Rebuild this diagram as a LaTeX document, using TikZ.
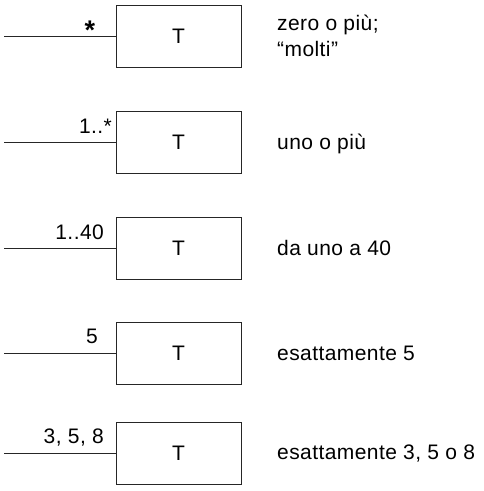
\documentclass[tikz,border=0pt]{standalone}
\usepackage{fontspec}
\setmainfont{Liberation Sans}[LetterSpace=2]
\begin{document}
\begin{tikzpicture}[x=1pt,y=-1pt,
  font=\fontsize{21}{26}\selectfont,
  box/.style={draw=black!85, line width=0.8pt, minimum width=125pt, minimum height=62pt, inner sep=0pt},
  wire/.style={draw=black!85, line width=0.8pt},
  mult/.style={anchor=base east, inner sep=0pt},
  desc/.style={anchor=base west, inner sep=0pt}]
\useasboundingbox (0,0) rectangle (483,491);
% boxes
\node[box] (b1) at (178.5,36) {T};
\node[box] (b2) at (178.5,142) {T};
\node[box] (b3) at (178.5,248) {T};
\node[box] (b4) at (178.5,353.5) {T};
\node[box] (b5) at (178.5,453) {T};
% wire starts
\coordinate (s1) at (4,36);
\coordinate (s2) at (4,142);
\coordinate (s3) at (4,248);
\coordinate (s4) at (4,353.5);
\coordinate (s5) at (4,453);
\draw[wire] (s1) -- (b1.west);
\draw[wire] (s2) -- (b2.west);
\draw[wire] (s3) -- (b3.west);
\draw[wire] (s4) -- (b4.west);
\draw[wire] (s5) -- (b5.west);
% multiplicities
\node[anchor=base, inner sep=0pt, font=\fontsize{27}{27}\selectfont\bfseries] (m1) at (90,39) {*};
\node[mult] (m2) at (112,133) {1..*};
\node[mult] (m3) at (104,239) {1..40};
\node[mult] (m4) at (98,343) {5};
\node[mult] (m5) at (104,443) {3, 5, 8};
% descriptions
\node[desc] (d1a) at (277,30) {zero o più;};
\node[desc] (d1b) at (277,56) {“molti”};
\node[desc] (d2) at (277,149) {uno o più};
\node[desc] (d3) at (277,255) {da uno a 40};
\node[desc] (d4) at (277,360) {esattamente 5};
\node[desc] (d5) at (277,459) {esattamente 3, 5 o 8};
\end{tikzpicture}
\end{document}
